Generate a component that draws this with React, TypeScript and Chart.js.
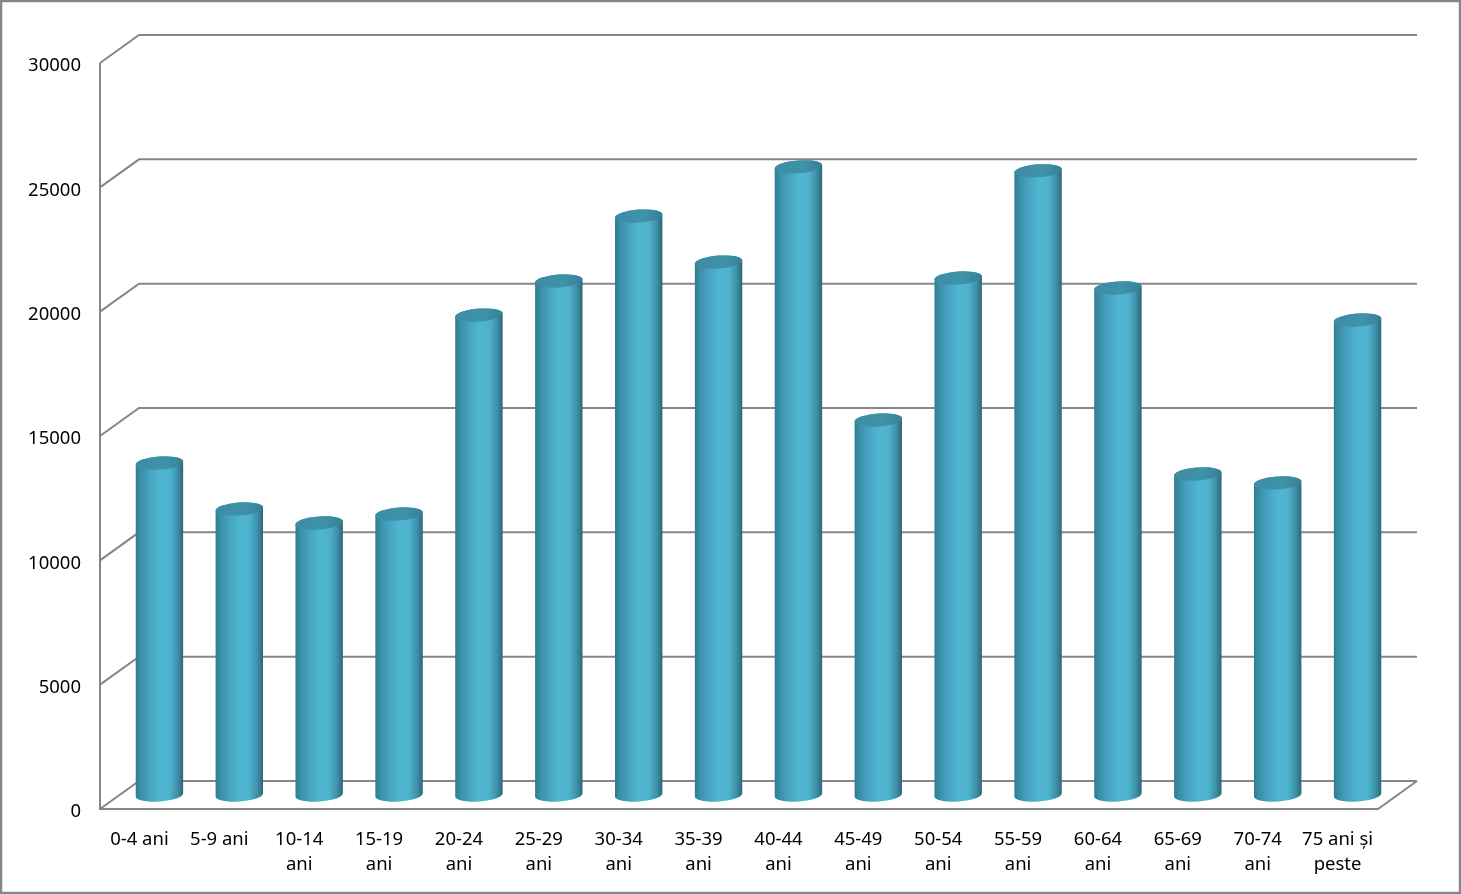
import React, { useEffect, useRef } from "react";
import { Chart, registerables } from "chart.js";

Chart.register(...registerables);

const categories: (string | string[])[] = [
  "0-4 ani", "5-9 ani", ["10-14", "ani"], ["15-19", "ani"], ["20-24", "ani"], ["25-29", "ani"],
  ["30-34", "ani"], ["35-39", "ani"], ["40-44", "ani"], ["45-49", "ani"], ["50-54", "ani"],
  ["55-59", "ani"], ["60-64", "ani"], ["65-69", "ani"], ["70-74", "ani"], ["75 ani și", "peste"],
];
const values = [13350, 11500, 10940, 11300, 19300, 20670, 23280, 21430, 25260, 15080, 20790, 25100, 20390, 12910, 12550, 19100];

const FONT = '"Noto Sans"';
const DX = 39;
const DY = 28;
const LINE = "#868686";
const TILT = -0.07;

const wallsPlugin = {
  id: "walls",
  beforeDatasetsDraw(chart: any) {
    const { ctx, chartArea: a, scales } = chart;
    const y = scales.y;
    ctx.save();
    ctx.strokeStyle = LINE;
    ctx.lineWidth = 2;
    y.ticks.forEach((t: any) => {
      const py = y.getPixelForValue(t.value);
      ctx.beginPath();
      ctx.moveTo(a.left, py);
      ctx.lineTo(a.left + DX, py - DY);
      ctx.lineTo(a.right + DX, py - DY);
      ctx.stroke();
    });
    ctx.beginPath();
    ctx.moveTo(a.left, a.top);
    ctx.lineTo(a.left, a.bottom);
    ctx.lineTo(a.right, a.bottom);
    ctx.lineTo(a.right + DX, a.bottom - DY);
    ctx.stroke();
    ctx.restore();
  },
};

const cylinderPlugin = {
  id: "cylinders",
  afterDatasetsDraw(chart: any) {
    const { ctx } = chart;
    const meta = chart.getDatasetMeta(0);
    meta.data.forEach((bar: any) => {
      const rx = bar.width / 2;
      const ry = 6.5;
      const cx = bar.x + DX / 2;
      const top = bar.y - DY / 2;
      const base = bar.base - DY / 2;
      const g = ctx.createLinearGradient(cx - rx, 0, cx + rx, 0);
      g.addColorStop(0, "#2e7b90");
      g.addColorStop(0.1, "#3a8ea6");
      g.addColorStop(0.3, "#46a5c0");
      g.addColorStop(0.5, "#4fb5d2");
      g.addColorStop(0.72, "#4db2cd");
      g.addColorStop(0.88, "#3e90a8");
      g.addColorStop(1, "#2e6678");
      const t = ctx.createLinearGradient(cx - rx, 0, cx + rx, 0);
      t.addColorStop(0, "#3b8ca4");
      t.addColorStop(0.6, "#4092aa");
      t.addColorStop(1, "#378097");
      ctx.save();
      ctx.fillStyle = g;
      ctx.beginPath();
      ctx.ellipse(cx, base, rx, ry, TILT, Math.PI, 0, true);
      ctx.ellipse(cx, top, rx, ry, TILT, 0, Math.PI, true);
      ctx.closePath();
      ctx.fill();
      ctx.fillStyle = t;
      ctx.beginPath();
      ctx.ellipse(cx, top, rx, ry, TILT, 0, Math.PI * 2);
      ctx.fill();
      ctx.restore();
    });
  },
};

const framePlugin = {
  id: "frame",
  afterDraw(chart: any) {
    const { ctx, width, height } = chart;
    ctx.save();
    ctx.strokeStyle = LINE;
    ctx.lineWidth = 2.5;
    ctx.strokeRect(1, 1, width - 2, height - 2);
    ctx.restore();
  },
};

export default function App() {
  const ref = useRef<HTMLCanvasElement>(null);
  useEffect(() => {
    const chart = new Chart(ref.current!, {
      type: "bar",
      data: {
        labels: categories,
        datasets: [{ data: values, backgroundColor: "rgba(0,0,0,0)", barPercentage: 0.595, categoryPercentage: 1 }],
      },
      options: {
        animation: false,
        responsive: false,
        layout: { padding: { top: 63, right: 83, bottom: 0, left: 0 } },
        plugins: { legend: { display: false }, tooltip: { enabled: false }, title: { display: false } },
        scales: {
          x: {
            grid: { display: false },
            border: { display: false },
            afterFit(s: any) { s.height = 85; },
            ticks: {
              autoSkip: false,
              maxRotation: 0,
              minRotation: 0,
              padding: 10,
              labelOffset: -0.5,
              color: "#000",
              font: { family: FONT, size: 18.5, lineHeight: 25 / 18.5 },
            },
          },
          y: {
            min: 0,
            max: 30000,
            grid: { display: false },
            border: { display: false },
            afterFit(s: any) { s.width = 100; },
            ticks: {
              stepSize: 5000,
              padding: 11,
              labelOffset: 3,
              color: "#000",
              font: { family: FONT, size: 18.5 },
              callback: (v: any) => String(v),
            },
          },
        },
      },
      plugins: [wallsPlugin, cylinderPlugin, framePlugin],
    } as any);
    return () => chart.destroy();
  }, []);
  return (
    <div style={{ position: "fixed", left: 0, top: 0, width: 1461, height: 894, background: "#fff" }}>
      <canvas ref={ref} width={1461} height={894} style={{ display: "block" }} />
    </div>
  );
}
